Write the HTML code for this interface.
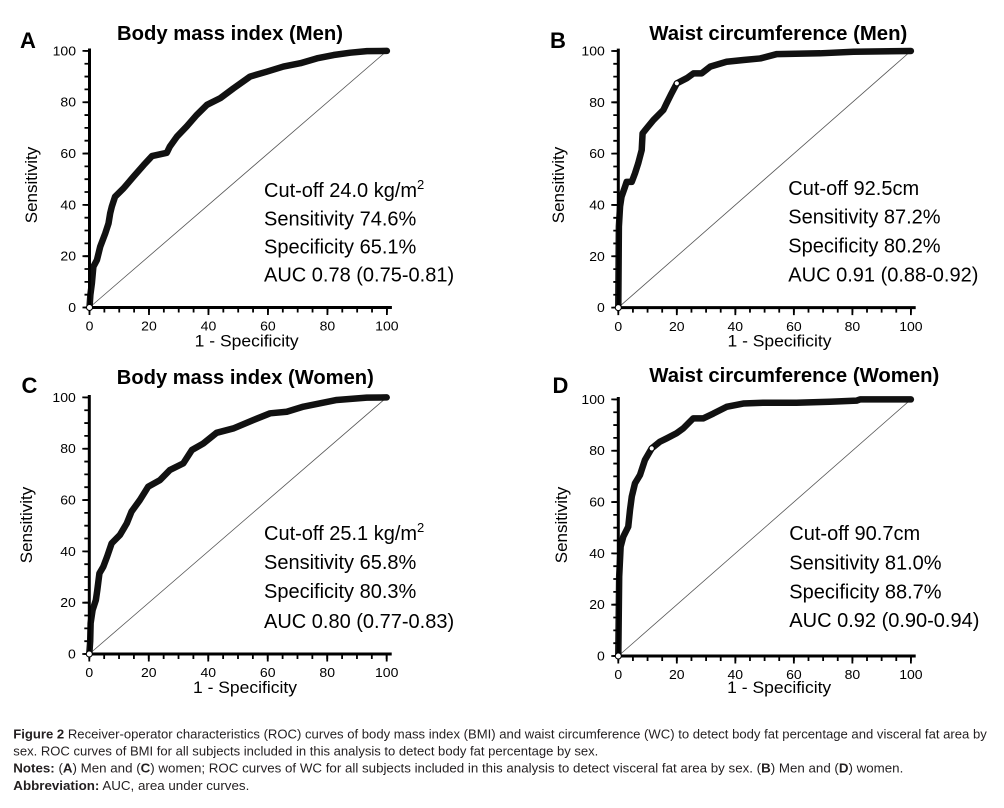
<!DOCTYPE html>
<html>
<head>
<meta charset="utf-8">
<style>
  html, body { margin: 0; padding: 0; background: #ffffff; }
  body { width: 1004px; height: 808px; overflow: hidden; }
  svg { display: block; }
  text { font-family: "Liberation Sans", Arial, sans-serif; fill: #000; }
  .ttl { font-weight: bold; font-size: 20px; }
  .let { font-weight: bold; font-size: 22px; }
  .tick { font-size: 12.5px; }
  .axt { font-size: 17px; }
  .ann { font-size: 20px; }
  .cap { font-size: 13px; fill: #231f20; }
  .cap tspan.b { font-weight: bold; }
  .axis { stroke: #000; stroke-width: 3; fill: none; }
  .curve { fill: none; stroke: #111; stroke-width: 6.5; stroke-linejoin: round; stroke-linecap: round; }
  .diag { stroke: #555; stroke-width: 0.8; }
</style>
</head>
<body>
<svg width="1004" height="808" viewBox="0 0 1004 808" xmlns="http://www.w3.org/2000/svg">
  <rect x="0" y="0" width="1004" height="808" fill="#ffffff"/>

  <!-- ================= PANEL A ================= -->
  <text class="let" x="20" y="48">A</text>
  <text class="ttl" x="230" y="40" text-anchor="middle" textLength="226" lengthAdjust="spacingAndGlyphs">Body mass index (Men)</text>
  <text class="axt" transform="translate(37.2,185) rotate(-90)" text-anchor="middle">Sensitivity</text>
  <text class="axt" x="246.7" y="346.5" text-anchor="middle" textLength="104" lengthAdjust="spacingAndGlyphs">1 - Specificity</text>
  <g transform="translate(89.5,307.5)">
    <g transform="scale(2.974,-2.566)">
      <line class="diag" x1="0" y1="0" x2="100" y2="100" vector-effect="non-scaling-stroke"/>
      <polyline class="curve" vector-effect="non-scaling-stroke" points="0,0 0.3,5 0.8,9.4 1.3,15.9 2.5,18.5 3.6,23.7 5.3,28.9 6.4,32.8 6.95,36.7 7.5,39.3 8.6,43.2 11.4,46.4 14.8,51 18.2,55.5 21,59 26,60.3 27,62.7 29.4,66.6 32.7,70.6 36.1,75.1 39.5,79 44,81.6 48.4,85.4 54,90 59.6,91.9 65.2,93.9 70.9,95.2 76.5,97.1 82.1,98.4 87.7,99.3 93.3,99.9 100,100"/>
    </g>
    <line class="axis" x1="0" y1="1.5" x2="0" y2="-259"/>
    <line class="axis" x1="-1.5" y1="0" x2="302.4" y2="0"/>
    <line x1="-2.5" y1="0.9" x2="-2.5" y2="-258" stroke="#000" stroke-width="5" stroke-dasharray="1.8 11.03"/>
    <line x1="-3.5" y1="0.9" x2="-3.5" y2="-258" stroke="#000" stroke-width="7" stroke-dasharray="1.8 49.52"/>
    <line x1="-0.9" y1="2.5" x2="298.6" y2="2.5" stroke="#000" stroke-width="5" stroke-dasharray="1.8 13.07"/>
    <line x1="-0.9" y1="3.75" x2="298.6" y2="3.75" stroke="#000" stroke-width="7.5" stroke-dasharray="1.8 57.68"/>
    <circle cx="0" cy="0" r="3" fill="#fff" stroke="#000" stroke-width="1"/>
    <text class="tick" x="-13.5" y="4.5" text-anchor="end" textLength="7.8" lengthAdjust="spacingAndGlyphs">0</text>
    <text class="tick" x="-13.5" y="-46.8" text-anchor="end" textLength="15.6" lengthAdjust="spacingAndGlyphs">20</text>
    <text class="tick" x="-13.5" y="-98.1" text-anchor="end" textLength="15.6" lengthAdjust="spacingAndGlyphs">40</text>
    <text class="tick" x="-13.5" y="-149.5" text-anchor="end" textLength="15.6" lengthAdjust="spacingAndGlyphs">60</text>
    <text class="tick" x="-13.5" y="-200.8" text-anchor="end" textLength="15.6" lengthAdjust="spacingAndGlyphs">80</text>
    <text class="tick" x="-13.5" y="-252.1" text-anchor="end" textLength="23.4" lengthAdjust="spacingAndGlyphs">100</text>
    <text class="tick" x="0" y="23.2" text-anchor="middle" textLength="7.8" lengthAdjust="spacingAndGlyphs">0</text>
    <text class="tick" x="59.5" y="23.2" text-anchor="middle" textLength="15.6" lengthAdjust="spacingAndGlyphs">20</text>
    <text class="tick" x="119" y="23.2" text-anchor="middle" textLength="15.6" lengthAdjust="spacingAndGlyphs">40</text>
    <text class="tick" x="178.4" y="23.2" text-anchor="middle" textLength="15.6" lengthAdjust="spacingAndGlyphs">60</text>
    <text class="tick" x="237.9" y="23.2" text-anchor="middle" textLength="15.6" lengthAdjust="spacingAndGlyphs">80</text>
    <text class="tick" x="297.4" y="23.2" text-anchor="middle" textLength="23.4" lengthAdjust="spacingAndGlyphs">100</text>
  </g>
  <text class="ann" x="264" y="197">Cut-off 24.0 kg/m<tspan font-size="13" dy="-8">2</tspan></text>
  <text class="ann" x="264" y="225.3">Sensitivity 74.6%</text>
  <text class="ann" x="264" y="253.5">Specificity 65.1%</text>
  <text class="ann" x="264" y="281.7">AUC 0.78 (0.75-0.81)</text>

  <!-- ================= PANEL B ================= -->
  <text class="let" x="550" y="48">B</text>
  <text class="ttl" x="778.3" y="40" text-anchor="middle" textLength="258" lengthAdjust="spacingAndGlyphs">Waist circumference (Men)</text>
  <text class="axt" transform="translate(563.9,185) rotate(-90)" text-anchor="middle">Sensitivity</text>
  <text class="axt" x="779.5" y="346.5" text-anchor="middle" textLength="104" lengthAdjust="spacingAndGlyphs">1 - Specificity</text>
  <g transform="translate(618.3,307.6)">
    <g transform="scale(2.926,-2.566)">
      <line class="diag" x1="0" y1="0" x2="100" y2="100" vector-effect="non-scaling-stroke"/>
      <polyline class="curve" vector-effect="non-scaling-stroke" points="0,0 0.2,31.6 0.6,39.4 1.1,43.2 2.3,47.1 2.85,49 4.6,49 5.7,52.3 6.8,56.2 8,61.4 8.3,67.9 9.7,69.9 12,73.1 15.4,77 16.5,79.6 18.2,83.5 20,87.4 23.4,89.4 25.7,91.3 28.5,91.3 31.4,93.9 37,95.8 42.8,96.5 48.5,97.1 54.2,98.8 69,99.1 80.4,99.7 100,100"/>
    </g>
    <circle cx="58.5" cy="-224.3" r="2.6" fill="#fff" stroke="#000" stroke-width="1"/>
    <line class="axis" x1="0" y1="1.5" x2="0" y2="-259"/>
    <line class="axis" x1="-1.5" y1="0" x2="297.4" y2="0"/>
    <line x1="-2.5" y1="0.9" x2="-2.5" y2="-258" stroke="#000" stroke-width="5" stroke-dasharray="1.8 11.03"/>
    <line x1="-3.5" y1="0.9" x2="-3.5" y2="-258" stroke="#000" stroke-width="7" stroke-dasharray="1.8 49.52"/>
    <line x1="-0.9" y1="2.5" x2="293.8" y2="2.5" stroke="#000" stroke-width="5" stroke-dasharray="1.8 12.83"/>
    <line x1="-0.9" y1="3.75" x2="293.8" y2="3.75" stroke="#000" stroke-width="7.5" stroke-dasharray="1.8 56.72"/>
    <circle cx="0" cy="0" r="3" fill="#fff" stroke="#000" stroke-width="1"/>
    <text class="tick" x="-13.5" y="4.5" text-anchor="end" textLength="7.8" lengthAdjust="spacingAndGlyphs">0</text>
    <text class="tick" x="-13.5" y="-46.8" text-anchor="end" textLength="15.6" lengthAdjust="spacingAndGlyphs">20</text>
    <text class="tick" x="-13.5" y="-98.1" text-anchor="end" textLength="15.6" lengthAdjust="spacingAndGlyphs">40</text>
    <text class="tick" x="-13.5" y="-149.5" text-anchor="end" textLength="15.6" lengthAdjust="spacingAndGlyphs">60</text>
    <text class="tick" x="-13.5" y="-200.8" text-anchor="end" textLength="15.6" lengthAdjust="spacingAndGlyphs">80</text>
    <text class="tick" x="-13.5" y="-252.1" text-anchor="end" textLength="23.4" lengthAdjust="spacingAndGlyphs">100</text>
    <text class="tick" x="0" y="23.2" text-anchor="middle" textLength="7.8" lengthAdjust="spacingAndGlyphs">0</text>
    <text class="tick" x="58.5" y="23.2" text-anchor="middle" textLength="15.6" lengthAdjust="spacingAndGlyphs">20</text>
    <text class="tick" x="117" y="23.2" text-anchor="middle" textLength="15.6" lengthAdjust="spacingAndGlyphs">40</text>
    <text class="tick" x="175.6" y="23.2" text-anchor="middle" textLength="15.6" lengthAdjust="spacingAndGlyphs">60</text>
    <text class="tick" x="234.1" y="23.2" text-anchor="middle" textLength="15.6" lengthAdjust="spacingAndGlyphs">80</text>
    <text class="tick" x="292.6" y="23.2" text-anchor="middle" textLength="23.4" lengthAdjust="spacingAndGlyphs">100</text>
  </g>
  <text class="ann" x="788.3" y="195">Cut-off 92.5cm</text>
  <text class="ann" x="788.3" y="223.5">Sensitivity 87.2%</text>
  <text class="ann" x="788.3" y="252.3">Specificity 80.2%</text>
  <text class="ann" x="788.3" y="281.5">AUC 0.91 (0.88-0.92)</text>

  <!-- ================= PANEL C ================= -->
  <text class="let" x="21.5" y="393">C</text>
  <text class="ttl" x="245.3" y="384" text-anchor="middle" textLength="257" lengthAdjust="spacingAndGlyphs">Body mass index (Women)</text>
  <text class="axt" transform="translate(32.2,525) rotate(-90)" text-anchor="middle">Sensitivity</text>
  <text class="axt" x="245" y="693" text-anchor="middle" textLength="104" lengthAdjust="spacingAndGlyphs">1 - Specificity</text>
  <g transform="translate(89.3,654)">
    <g transform="scale(2.974,-2.566)">
      <line class="diag" x1="0" y1="0" x2="100" y2="100" vector-effect="non-scaling-stroke"/>
      <polyline class="curve" vector-effect="non-scaling-stroke" points="0,0 0.3,5 0.45,12 1.1,17.1 2.2,21 2.7,25 3.4,31.4 4.7,34 6,38 7.5,43.1 10.3,46.4 12.6,50.9 14.2,55.5 17,60 19.8,65.2 23.8,67.8 27.1,71.7 31.6,74.3 34.5,79.5 38.3,82 42.8,86.2 48.4,87.9 55.2,91.2 60.8,93.8 66.4,94.4 72,96.4 77.6,97.7 83.2,99 93.3,99.9 100,100"/>
    </g>
    <line class="axis" x1="0" y1="1.5" x2="0" y2="-259"/>
    <line class="axis" x1="-1.5" y1="0" x2="302.4" y2="0"/>
    <line x1="-2.5" y1="0.9" x2="-2.5" y2="-258" stroke="#000" stroke-width="5" stroke-dasharray="1.8 11.03"/>
    <line x1="-3.5" y1="0.9" x2="-3.5" y2="-258" stroke="#000" stroke-width="7" stroke-dasharray="1.8 49.52"/>
    <line x1="-0.9" y1="2.5" x2="298.6" y2="2.5" stroke="#000" stroke-width="5" stroke-dasharray="1.8 13.07"/>
    <line x1="-0.9" y1="3.75" x2="298.6" y2="3.75" stroke="#000" stroke-width="7.5" stroke-dasharray="1.8 57.68"/>
    <circle cx="0" cy="0" r="3" fill="#fff" stroke="#000" stroke-width="1"/>
    <text class="tick" x="-13.5" y="4.5" text-anchor="end" textLength="7.8" lengthAdjust="spacingAndGlyphs">0</text>
    <text class="tick" x="-13.5" y="-46.8" text-anchor="end" textLength="15.6" lengthAdjust="spacingAndGlyphs">20</text>
    <text class="tick" x="-13.5" y="-98.1" text-anchor="end" textLength="15.6" lengthAdjust="spacingAndGlyphs">40</text>
    <text class="tick" x="-13.5" y="-149.5" text-anchor="end" textLength="15.6" lengthAdjust="spacingAndGlyphs">60</text>
    <text class="tick" x="-13.5" y="-200.8" text-anchor="end" textLength="15.6" lengthAdjust="spacingAndGlyphs">80</text>
    <text class="tick" x="-13.5" y="-252.1" text-anchor="end" textLength="23.4" lengthAdjust="spacingAndGlyphs">100</text>
    <text class="tick" x="0" y="23.2" text-anchor="middle" textLength="7.8" lengthAdjust="spacingAndGlyphs">0</text>
    <text class="tick" x="59.5" y="23.2" text-anchor="middle" textLength="15.6" lengthAdjust="spacingAndGlyphs">20</text>
    <text class="tick" x="119" y="23.2" text-anchor="middle" textLength="15.6" lengthAdjust="spacingAndGlyphs">40</text>
    <text class="tick" x="178.4" y="23.2" text-anchor="middle" textLength="15.6" lengthAdjust="spacingAndGlyphs">60</text>
    <text class="tick" x="237.9" y="23.2" text-anchor="middle" textLength="15.6" lengthAdjust="spacingAndGlyphs">80</text>
    <text class="tick" x="297.4" y="23.2" text-anchor="middle" textLength="23.4" lengthAdjust="spacingAndGlyphs">100</text>
  </g>
  <text class="ann" x="264" y="540">Cut-off 25.1 kg/m<tspan font-size="13" dy="-8">2</tspan></text>
  <text class="ann" x="264" y="569">Sensitivity 65.8%</text>
  <text class="ann" x="264" y="598">Specificity 80.3%</text>
  <text class="ann" x="264" y="628">AUC 0.80 (0.77-0.83)</text>

  <!-- ================= PANEL D ================= -->
  <text class="let" x="552.5" y="393">D</text>
  <text class="ttl" x="794.3" y="382" text-anchor="middle" textLength="290" lengthAdjust="spacingAndGlyphs">Waist circumference (Women)</text>
  <text class="axt" transform="translate(567.2,525) rotate(-90)" text-anchor="middle">Sensitivity</text>
  <text class="axt" x="779.2" y="693" text-anchor="middle" textLength="104" lengthAdjust="spacingAndGlyphs">1 - Specificity</text>
  <g transform="translate(618.3,656)">
    <g transform="scale(2.926,-2.566)">
      <line class="diag" x1="0" y1="0" x2="100" y2="100" vector-effect="non-scaling-stroke"/>
      <polyline class="curve" vector-effect="non-scaling-stroke" points="0,0 0.3,30.9 0.8,42.6 1.7,46.5 3.4,50.4 4,56.9 4.6,62.1 5.7,67.3 7.4,70.5 9.1,76.4 11.4,80.9 14.2,83.5 16.5,84.8 19.9,86.8 22.2,88.7 25.6,92.6 29,92.6 32.5,94.5 37,97.1 42.7,98.4 49.5,98.7 60.9,98.7 72.3,99.1 81.4,99.5 82.6,100 100,100"/>
    </g>
    <circle cx="33.4" cy="-207.6" r="2.6" fill="#fff" stroke="#000" stroke-width="1"/>
    <line class="axis" x1="0" y1="1.5" x2="0" y2="-259"/>
    <line class="axis" x1="-1.5" y1="0" x2="297.4" y2="0"/>
    <line x1="-2.5" y1="0.9" x2="-2.5" y2="-258" stroke="#000" stroke-width="5" stroke-dasharray="1.8 11.03"/>
    <line x1="-3.5" y1="0.9" x2="-3.5" y2="-258" stroke="#000" stroke-width="7" stroke-dasharray="1.8 49.52"/>
    <line x1="-0.9" y1="2.5" x2="293.8" y2="2.5" stroke="#000" stroke-width="5" stroke-dasharray="1.8 12.83"/>
    <line x1="-0.9" y1="3.75" x2="293.8" y2="3.75" stroke="#000" stroke-width="7.5" stroke-dasharray="1.8 56.72"/>
    <circle cx="0" cy="0" r="3" fill="#fff" stroke="#000" stroke-width="1"/>
    <text class="tick" x="-13.5" y="4.5" text-anchor="end" textLength="7.8" lengthAdjust="spacingAndGlyphs">0</text>
    <text class="tick" x="-13.5" y="-46.8" text-anchor="end" textLength="15.6" lengthAdjust="spacingAndGlyphs">20</text>
    <text class="tick" x="-13.5" y="-98.1" text-anchor="end" textLength="15.6" lengthAdjust="spacingAndGlyphs">40</text>
    <text class="tick" x="-13.5" y="-149.5" text-anchor="end" textLength="15.6" lengthAdjust="spacingAndGlyphs">60</text>
    <text class="tick" x="-13.5" y="-200.8" text-anchor="end" textLength="15.6" lengthAdjust="spacingAndGlyphs">80</text>
    <text class="tick" x="-13.5" y="-252.1" text-anchor="end" textLength="23.4" lengthAdjust="spacingAndGlyphs">100</text>
    <text class="tick" x="0" y="23.2" text-anchor="middle" textLength="7.8" lengthAdjust="spacingAndGlyphs">0</text>
    <text class="tick" x="58.5" y="23.2" text-anchor="middle" textLength="15.6" lengthAdjust="spacingAndGlyphs">20</text>
    <text class="tick" x="117" y="23.2" text-anchor="middle" textLength="15.6" lengthAdjust="spacingAndGlyphs">40</text>
    <text class="tick" x="175.6" y="23.2" text-anchor="middle" textLength="15.6" lengthAdjust="spacingAndGlyphs">60</text>
    <text class="tick" x="234.1" y="23.2" text-anchor="middle" textLength="15.6" lengthAdjust="spacingAndGlyphs">80</text>
    <text class="tick" x="292.6" y="23.2" text-anchor="middle" textLength="23.4" lengthAdjust="spacingAndGlyphs">100</text>
  </g>
  <text class="ann" x="789.3" y="540">Cut-off 90.7cm</text>
  <text class="ann" x="789.3" y="569.3">Sensitivity 81.0%</text>
  <text class="ann" x="789.3" y="598.3">Specificity 88.7%</text>
  <text class="ann" x="789.3" y="627">AUC 0.92 (0.90-0.94)</text>

  <!-- ================= CAPTION ================= -->
  <text class="cap" x="13.3" y="738.3" textLength="973.5" lengthAdjust="spacingAndGlyphs"><tspan class="b">Figure 2</tspan> Receiver-operator characteristics (ROC) curves of body mass index (BMI) and waist circumference (WC) to detect body fat percentage and visceral fat area by</text>
  <text class="cap" x="13.3" y="755.5" textLength="585" lengthAdjust="spacingAndGlyphs">sex. ROC curves of BMI for all subjects included in this analysis to detect body fat percentage by sex.</text>
  <text class="cap" x="13.3" y="772.7" textLength="890" lengthAdjust="spacingAndGlyphs"><tspan class="b">Notes:</tspan> (<tspan class="b">A</tspan>) Men and (<tspan class="b">C</tspan>) women; ROC curves of WC for all subjects included in this analysis to detect visceral fat area by sex. (<tspan class="b">B</tspan>) Men and (<tspan class="b">D</tspan>) women.</text>
  <text class="cap" x="13.3" y="790" textLength="236" lengthAdjust="spacingAndGlyphs"><tspan class="b">Abbreviation:</tspan> AUC, area under curves.</text>
</svg>
</body>
</html>
